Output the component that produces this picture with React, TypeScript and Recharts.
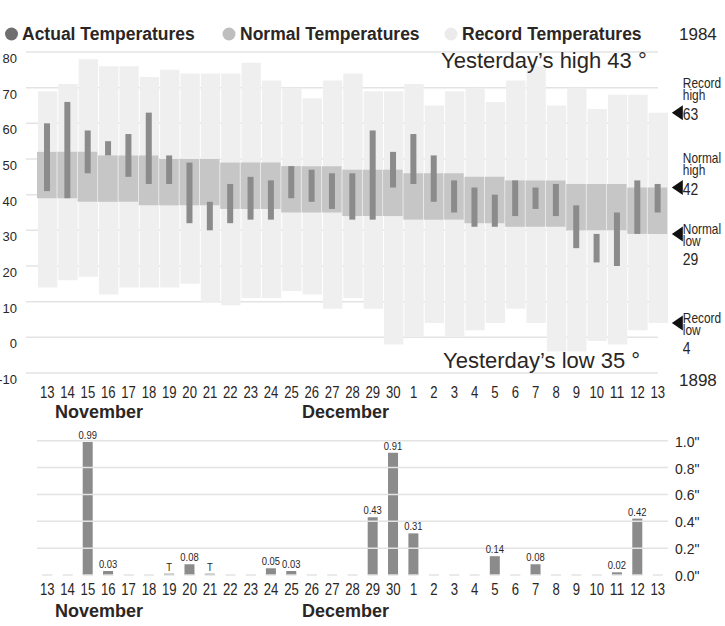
import React from 'react';
import { BarChart, Bar, XAxis, YAxis, CartesianGrid, ReferenceDot, ReferenceLine, LabelList } from 'recharts';

// Nov 13 -> Dec 13
const dayLabels = ['13', '14', '15', '16', '17', '18', '19', '20', '21', '22', '23', '24', '25', '26', '27', '28', '29', '30',
  '1', '2', '3', '4', '5', '6', '7', '8', '9', '10', '11', '12', '13'];
const novemberCount = 18;

const recordHigh = [69, 71, 78, 76, 76, 73, 75, 74, 74, 74, 77, 72, 70, 67, 72, 74, 69, 69,
  71, 65, 69, 70, 66, 72, 76, 65, 70, 64, 68, 68, 63];
const recordLow = [14, 16, 17, 12, 14, 14, 14, 15, 10, 9, 11, 11, 13, 12, 8, 11, 8, -2,
  0, 4, 0, 2, 4, 8, 4, -4, -4, -1, -2, 2, 4];
const normalHigh = [52, 52, 52, 51, 51, 51, 50, 50, 50, 49, 49, 49, 48, 48, 48, 47, 47, 47,
  46, 46, 46, 45, 45, 44, 44, 44, 43, 43, 43, 42, 42];
const normalLow = [39, 39, 38, 38, 38, 37, 37, 37, 37, 36, 36, 36, 35, 35, 35, 34, 34, 34,
  33, 33, 33, 32, 32, 31, 31, 31, 30, 30, 30, 29, 29];
const actualHigh = [60, 66, 58, 55, 57, 63, 51, 49, 38, 43, 45, 44, 48, 47, 46, 46, 58, 52,
  57, 51, 44, 42, 40, 44, 42, 43, 37, 29, 35, 44, 43];
const actualLow = [41, 39, 46, 51, 45, 43, 43, 32, 30, 32, 33, 33, 39, 38, 36, 33, 33, 42,
  43, 38, 35, 31, 31, 34, 36, 34, 25, 21, 20, 29, 35];

// T = trace, drawn as a sliver
const precip = [0, 0, 0.99, 0.03, 0, 0, 0.01, 0.08, 0.01, 0, 0, 0.05, 0.03, 0, 0, 0, 0.43, 0.91,
  0.31, 0, 0, 0, 0.14, 0, 0.08, 0, 0, 0, 0.02, 0.42, 0];
const precipLabels = ['', '', '0.99', '0.03', '', '', 'T', '0.08', 'T', '', '', '0.05', '0.03', '', '', '', '0.43', '0.91',
  '0.31', '', '', '', '0.14', '', '0.08', '', '', '', '0.02', '0.42', ''];

const tempTicks = [-10, 0, 10, 20, 30, 40, 50, 60, 70, 80];
const precipTicks = [0, 0.2, 0.4, 0.6, 0.8, 1.0];

const rows = dayLabels.map((d, i) => ({
  key: (i < novemberCount ? 'Nov ' : 'Dec ') + d,
  record: [recordLow[i], recordHigh[i]],
  normal: [normalLow[i], normalHigh[i]],
  actual: [actualLow[i], actualHigh[i]],
  precip: precip[i],
  label: precipLabels[i],
}));

const last = dayLabels.length - 1;
const markers = [
  { value: recordHigh[last], lines: ['Record', 'high'], kind: 'high' },
  { value: normalHigh[last], lines: ['Normal', 'high'], kind: 'high' },
  { value: normalLow[last], lines: ['Normal', 'low'], kind: 'low' },
  { value: recordLow[last], lines: ['Record', 'low'], kind: 'low' },
];

const SANS = '"Liberation Sans", Arial, sans-serif';
const INK = '#2b2624';

// no narrow face installed, so squeeze regular glyphs to narrow widths
const widths: Record<string, number> = {
  '.': 0.278, '-': 0.333, T: 0.611, R: 0.722, N: 0.722, e: 0.556, c: 0.5, o: 0.556, r: 0.333, d: 0.556,
  h: 0.556, i: 0.222, g: 0.556, m: 0.833, a: 0.556, l: 0.222, w: 0.722,
};
const narrowLen = (s: string, size: number) =>
  s.split('').reduce((acc, ch) => acc + (widths[ch] ?? 0.556), 0) * 0.82 * size;

function Narrow({ children, size, ...rest }: any) {
  const s = String(children);
  if (!s) return null;
  return (
    <text {...rest} fontFamily={SANS} fontSize={size} fill={INK} textLength={narrowLen(s, size)} lengthAdjust="spacingAndGlyphs">{s}</text>
  );
}

function DayTick(props: any) {
  const { x, y, payload, off } = props;
  const label = String(payload.value).split(' ')[1];
  return <Narrow x={x - narrowLen(label, 16) / 2} y={y + off} size={16}>{label}</Narrow>;
}

function TempTick(props: any) {
  const { y, payload } = props;
  return (
    <text x={17} y={y + 11} textAnchor="end" fontFamily={SANS} fontSize={13} fill={INK}>{payload.value}</text>
  );
}

function PrecipTick(props: any) {
  const { x, y, payload } = props;
  return (
    <text x={x} y={y + 6} textAnchor="start" fontFamily={SANS} fontSize={14} fill={INK}>{Number(payload.value).toFixed(1) + '"'}</text>
  );
}

function BarValue(props: any) {
  const { x, y, width, value } = props;
  const s = String(value ?? '');
  if (!s) return null;
  return <Narrow x={x + width / 2 - narrowLen(s, 11.5) / 2} y={y - 3} size={11.5}>{s}</Narrow>;
}

function Marker({ cx, cy, m }: any) {
  const tx = cx + 25;
  const tri = `${cx + 14},${cy} ${cx + 25},${cy - 7.5} ${cx + 25},${cy + 7.5}`;
  if (m.kind === 'high') {
    return (
      <g>
        <polygon points={tri} fill="#111" />
        <Narrow x={tx} y={cy - 25} size={14.5}>{m.lines[0]}</Narrow>
        <Narrow x={tx} y={cy - 13} size={14.5}>{m.lines[1]}</Narrow>
        <Narrow x={tx} y={cy + 7} size={17}>{m.value}</Narrow>
      </g>
    );
  }
  return (
    <g>
      <polygon points={tri} fill="#111" />
      <Narrow x={tx} y={cy} size={14.5}>{m.lines[0]}</Narrow>
      <Narrow x={tx} y={cy + 12} size={14.5}>{m.lines[1]}</Narrow>
      <Narrow x={tx} y={cy + 31} size={17}>{m.value}</Narrow>
    </g>
  );
}

export default function App() {
  return (
    <div style={{ position: 'absolute', left: 0, top: 0, width: 725, height: 626, background: '#fff' }}>
      <div style={{ position: 'absolute', left: 0, top: 0 }}>
        <BarChart width={725} height={430} data={rows} margin={{ top: 52, right: 57, left: 0, bottom: 17 }}>
          <CartesianGrid vertical={false} x={26} width={632} stroke="#e3e3e3" strokeWidth={1.5} />
          <XAxis dataKey="key" height={40} axisLine={false} tickLine={false} tickSize={0} tickMargin={0}
            interval={0} tick={(p: any) => <DayTick {...p} off={25} />} />
          <XAxis xAxisId="norm" dataKey="key" hide />
          <XAxis xAxisId="act" dataKey="key" hide />
          <YAxis width={37} domain={[-10, 80]} ticks={tempTicks} interval={0} axisLine={false} tickLine={false}
            tick={(p: any) => <TempTick {...p} />} />
          <Bar dataKey="record" fill="#efefef" barSize={19.3} isAnimationActive={false} />
          <Bar xAxisId="norm" dataKey="normal" fill="#c6c6c6" barSize={19.6} isAnimationActive={false} />
          <Bar xAxisId="act" dataKey="actual" fill="#8b8b8b" barSize={6} isAnimationActive={false} />
          {markers.map((m) => (
            <ReferenceDot key={m.lines.join() + m.value} x={rows[last].key} y={m.value} ifOverflow="visible"
              shape={(p: any) => <Marker cx={p.cx} cy={p.cy} m={m} />} />
          ))}
        </BarChart>
      </div>
      <div style={{ position: 'absolute', left: 0, top: 420 }}>
        <BarChart width={725} height={206} data={rows} margin={{ top: 20.7, right: 0, left: 37, bottom: 11 }}>
          <XAxis dataKey="key" height={40} axisLine={false} tickLine={false} tickSize={0} tickMargin={0}
            interval={0} tick={(p: any) => <DayTick {...p} off={20} />} />
          <YAxis orientation="right" width={57} domain={[0, 1]} ticks={precipTicks} interval={0} axisLine={false}
            tickLine={false} tickSize={0} tickMargin={7} tick={(p: any) => <PrecipTick {...p} />} />
          {precipTicks.filter((t) => t > 0).map((t) => (
            <ReferenceLine key={t} y={t} stroke="#e3e3e3" strokeWidth={1.5} />
          ))}
          <ReferenceLine y={0} stroke="#e3e3e3" strokeWidth={1.5} strokeDasharray="10 10.35" strokeDashoffset={15.15} />
          <Bar dataKey="precip" fill="#8b8b8b" barSize={10} isAnimationActive={false}>
            <LabelList dataKey="label" content={(p: any) => <BarValue {...p} />} />
          </Bar>
        </BarChart>
      </div>
      <svg width={725} height={626} style={{ position: 'absolute', left: 0, top: 0, pointerEvents: 'none' }}>
        <circle cx={11.5} cy={34} r={6.5} fill="#6f6f6f" />
        <text x={22} y={40} fontFamily={SANS} fontWeight="bold" fontSize={17.5} fill={INK}>Actual Temperatures</text>
        <circle cx={229} cy={34} r={6.5} fill="#bebebe" />
        <text x={240} y={40} fontFamily={SANS} fontWeight="bold" fontSize={17.5} fill={INK}>Normal Temperatures</text>
        <circle cx={451} cy={34} r={6.5} fill="#ebebeb" />
        <text x={462} y={40} fontFamily={SANS} fontWeight="bold" fontSize={17.5} fill={INK}>Record Temperatures</text>
        <text x={679} y={40} fontFamily={SANS} fontSize={17} fill={INK}>1984</text>
        <text x={441} y={68} fontFamily={SANS} fontSize={22} fill={INK}>Yesterday’s high 43 °</text>
        <text x={443} y={368} fontFamily={SANS} fontSize={22} fill={INK}>Yesterday’s low 35 °</text>
        <text x={679} y={386} fontFamily={SANS} fontSize={17} fill={INK}>1898</text>
        <text x={55} y={418} fontFamily={SANS} fontWeight="bold" fontSize={18} fill={INK}>November</text>
        <text x={302} y={418} fontFamily={SANS} fontWeight="bold" fontSize={18} fill={INK}>December</text>
        <text x={55} y={617} fontFamily={SANS} fontWeight="bold" fontSize={18} fill={INK}>November</text>
        <text x={302} y={617} fontFamily={SANS} fontWeight="bold" fontSize={18} fill={INK}>December</text>
      </svg>
    </div>
  );
}
